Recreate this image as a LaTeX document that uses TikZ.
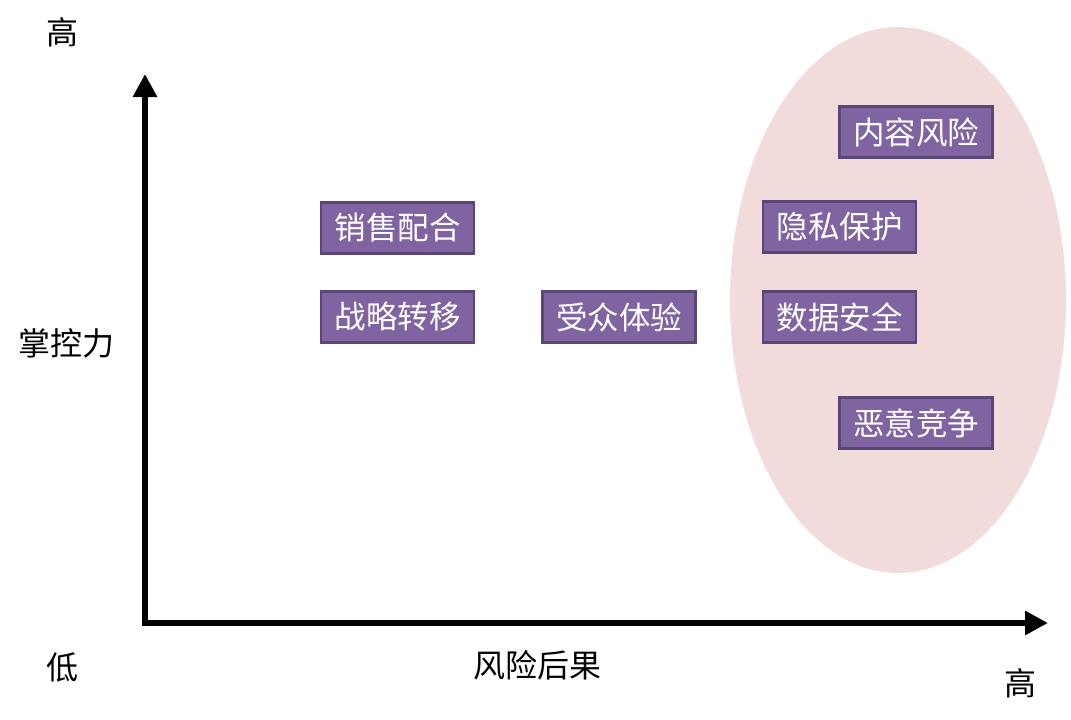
\documentclass[tikz,border=0pt]{standalone}
\usepackage{fontspec}
\setmainfont{Noto Sans CJK SC}
\usetikzlibrary{arrows.meta}
\definecolor{boxfill}{HTML}{8064A2}
\definecolor{boxline}{HTML}{5A4778}
\definecolor{ellfill}{HTML}{F2DCDB}
\tikzset{
  riskbox/.style={draw=boxline, line width=2.5pt, fill=boxfill, text=white,
    minimum width=153pt, minimum height=51pt, inner sep=0pt,
    font=\fontsize{31.5}{36}\selectfont},
  axislabel/.style={font=\fontsize{32}{37}\selectfont, text=black, inner sep=0pt},
  axis/.style={line width=6.5pt, -{Triangle[width=23pt,length=23pt]}}
}
\begin{document}
\begin{tikzpicture}[x=1pt,y=-1pt]
\useasboundingbox (0,0) rectangle (1071,720);
\fill[ellfill] (898,300) ellipse [x radius=168, y radius=273];
\coordinate (ytip) at (145,74);
\coordinate (xtip) at (1048,623);
\draw[axis] (145,626) -- (ytip);
\draw[axis] (142,623) -- (xtip);
\node[riskbox] (b1) at (397.5,228) {销售配合};
\node[riskbox] (b2) at (397.5,317) {战略转移};
\node[riskbox] (b3) at (619,317) {受众体验};
\node[riskbox] (b4) at (916,132) {内容风险};
\node[riskbox] (b5) at (839.5,227) {隐私保护};
\node[riskbox] (b6) at (839.5,317) {数据安全};
\node[riskbox] (b7) at (916,423) {恶意竞争};
\node[axislabel] (hiy) at (62,32) {高};
\node[axislabel] (ctl) at (67,343) {掌控力};
\node[axislabel] (low) at (62,667) {低};
\node[axislabel] (cons) at (537,665) {风险后果};
\node[axislabel] (hix) at (1020,683) {高};
\end{tikzpicture}
\end{document}
